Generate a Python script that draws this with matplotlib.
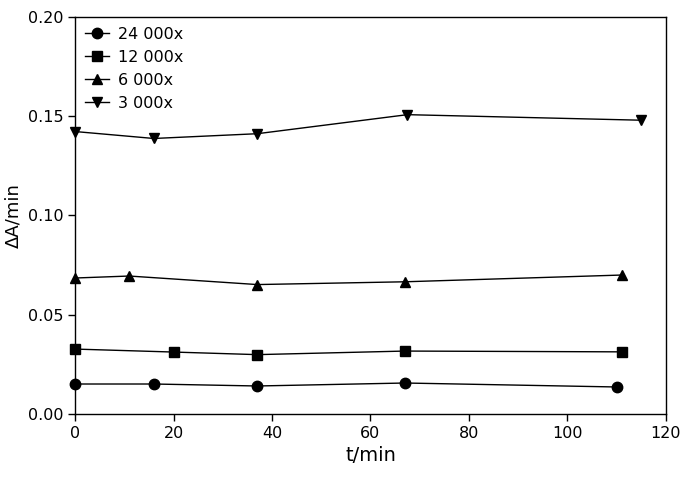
import matplotlib
matplotlib.use("Agg")
import matplotlib.pyplot as plt

plt.rcParams['font.family'] = ['DejaVu Sans']

t_24k = [0, 16, 37, 67, 110]
a_24k = [0.0151, 0.0151, 0.0141, 0.0156, 0.0136]
t_12k = [0, 20, 37, 67, 111]
a_12k = [0.0327, 0.0312, 0.0299, 0.0317, 0.0313]
t_6k = [0, 11, 37, 67, 111]
a_6k = [0.0685, 0.0695, 0.0652, 0.0666, 0.0700]
t_3k = [0, 16, 37, 67.5, 115]
a_3k = [0.1423, 0.1388, 0.1412, 0.1508, 0.1480]

labels = ["24 000x", "12 000x", "6 000x", "3 000x"]

fig = plt.figure(figsize=(6.9, 4.83), dpi=100)
ax = fig.add_axes([0.1087, 0.1429, 0.8565, 0.8219])

series = [(t_24k, a_24k, 'o'), (t_12k, a_12k, 's'),
          (t_6k, a_6k, '^'), (t_3k, a_3k, 'v')]
for (t, a, m), lab in zip(series, labels):
    ax.plot(t, a, color='black', lw=1, marker=m, ms=7.5, label=lab,
            clip_on=False, zorder=3)

ax.set_xlim(0, 120)
ax.set_ylim(0, 0.20)
ax.set_xticks(range(0, 121, 20))
ax.set_yticks([0.00, 0.05, 0.10, 0.15, 0.20])
ax.set_yticklabels(["0.00", "0.05", "0.10", "0.15", "0.20"])
ax.tick_params(direction='out', length=5, width=1, labelsize=11.5,
               top=False, right=False)
for s in ax.spines.values():
    s.set_linewidth(1)

ax.set_xlabel("t/min", fontsize=14)
ax.set_ylabel("ΔA/min", fontsize=13)

ax.legend(loc='upper left', frameon=False, fontsize=11.5, handlelength=1.5,
          handletextpad=0.6, borderaxespad=0.2, labelspacing=0.5)

fig.savefig("out.png", dpi=100)
